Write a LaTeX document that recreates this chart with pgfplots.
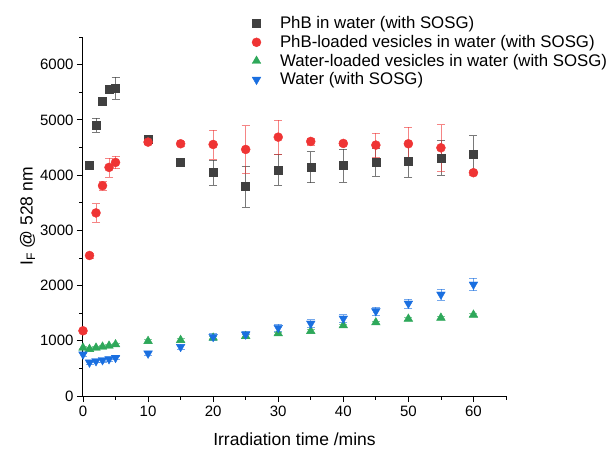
\documentclass[border=0pt]{standalone}
\usepackage{pgfplots}
\pgfplotsset{compat=1.18}
\usepackage{fontspec}
\setmainfont{Liberation Sans}
\definecolor{cblk}{HTML}{404040}
\definecolor{cred}{HTML}{EF3434}
\definecolor{cgrn}{HTML}{2EA85A}
\definecolor{cblu}{HTML}{1A6FE0}
\begin{document}
\begin{tikzpicture}
\useasboundingbox (-83pt,-57pt) rectangle (530pt,396pt);
\begin{axis}[
  at={(0pt,0pt)}, anchor=south west,
  scale only axis, width=423pt, height=359pt,
  xmin=0, xmax=65, ymin=0, ymax=6500,
  axis x line*=bottom, axis y line*=left,
  xtick={0,10,...,60}, minor xtick={5,15,...,65},
  ytick={0,1000,...,6000}, minor ytick={500,1500,...,6500},
  tick align=outside, major tick length=6pt, minor tick length=3.5pt,
  tick style={black, line width=0.8pt},
  axis line style={black, line width=1pt},
  /pgf/number format/assume math mode=true,
  /pgf/number format/set thousands separator={},
  ticklabel style={font=\fontsize{15}{18}\selectfont},
  label style={font=\fontsize{17.5}{21}\selectfont},
  xlabel={Irradiation time /mins},
  xlabel style={yshift=-10pt},
  ylabel={I\textsubscript{F} @ 528 nm},
  ylabel style={yshift=-2pt},
  legend style={at={(0.392,1.068)}, anchor=north west, draw=none, fill=none,
    font=\fontsize{16.8}{20}\selectfont, row sep=1pt, column sep=17pt},
  legend cell align=left,
]
\addplot[only marks, mark=square*, mark size=4pt, color=cblk,
  error bars/.cd, y dir=both, y explicit,
  error bar style={cblk, opacity=0.7, line width=0.8pt},
  error mark options={rotate=90, mark size=4pt, cblk, opacity=0.7}]
  table[x=x, y=y, y error=e] {
x y e
1 4175 40
2 4910 125
3 5332 40
4 5549 40
5 5573 200
10 4645 40
15 4234 70
20 4048 230
25 3790 370
30 4097 280
35 4145 280
40 4175 295
45 4235 260
50 4260 290
55 4313 320
60 4386 330
};
\addlegendentry{PhB in water (with SOSG)}
\addplot[only marks, mark=*, mark size=4.5pt, color=cred,
  error bars/.cd, y dir=both, y explicit,
  error bar style={cred, opacity=0.6, line width=0.8pt},
  error mark options={rotate=90, mark size=4pt, cred, opacity=0.6}]
  table[x=x, y=y, y error=e] {
x y e
0 1181 40
1 2544 40
2 3315 170
3 3807 80
4 4139 175
5 4229 110
10 4597 40
15 4567 40
20 4554 265
25 4464 430
30 4687 310
35 4609 60
40 4573 40
45 4543 215
50 4567 300
55 4494 420
60 4043 40
};
\addlegendentry{PhB-loaded vesicles in water (with SOSG)}
\addplot[only marks, mark=triangle*, mark size=5pt, color=cgrn,
  error bars/.cd, y dir=both, y explicit,
  error bar style={cgrn, opacity=0.6, line width=0.8pt},
  error mark options={rotate=90, mark size=4pt, cgrn, opacity=0.6}]
  table[x=x, y=y, y error=e] {
x y e
0 873 30
1 850 30
2 873 30
3 891 30
4 909 30
5 934 30
10 994 30
15 1012 30
20 1054 30
25 1084 30
30 1133 30
35 1175 30
40 1277 30
45 1331 30
50 1397 30
55 1415 30
60 1470 30
};
\addlegendentry{Water-loaded vesicles in water (with SOSG)}
\addplot[only marks, mark=triangle*, mark options={rotate=180}, mark size=5pt, color=cblu,
  error bars/.cd, y dir=both, y explicit,
  error bar style={cblu, opacity=0.6, line width=0.8pt},
  error mark options={rotate=90, mark size=4pt, cblu, opacity=0.6}]
  table[x=x, y=y, y error=e] {
x y e
0 753 30
1 608 30
2 633 30
3 651 30
4 669 30
5 693 30
10 771 40
15 891 50
20 1072 60
25 1115 60
30 1235 60
35 1313 70
40 1404 70
45 1536 80
50 1675 80
55 1838 100
60 2019 110
};
\addlegendentry{Water (with SOSG)}
\end{axis}
\end{tikzpicture}
\end{document}
